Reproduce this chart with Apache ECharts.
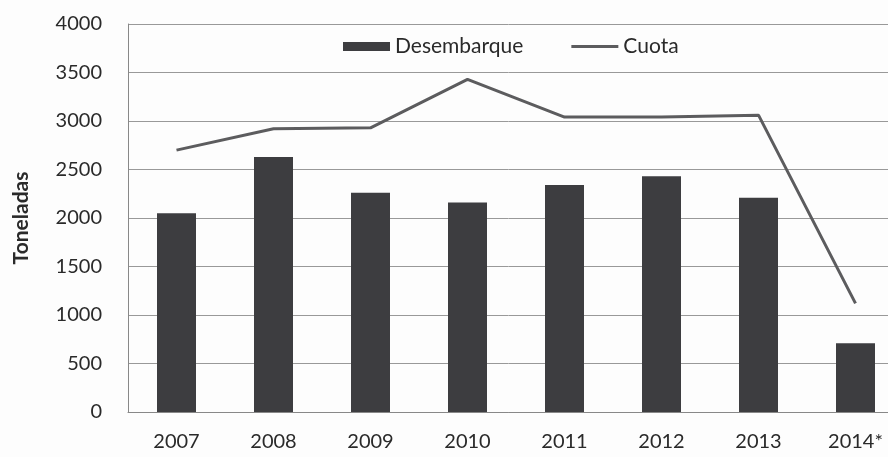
<!DOCTYPE html>
<html>
<head>
<meta charset="utf-8">
<script src="https://cdn.jsdelivr.net/npm/echarts@6/dist/echarts.min.js"></script>
</head>
<body style="margin:0;background:#fdfdfd;">
<div id="main" style="width:888px;height:457px;"></div>
<script type="text/javascript">
// datos
var years = ['2007', '2008', '2009', '2010', '2011', '2012', '2013', '2014*'];
var desembarque = [2050, 2630, 2260, 2160, 2340, 2430, 2210, 710];
var cuota = [2700, 2920, 2930, 3430, 3040, 3040, 3060, 1120];
var yTicks = [0, 500, 1000, 1500, 2000, 2500, 3000, 3500, 4000];

var myChart = echarts.init(document.getElementById('main'));
var fuente = 'Lato';
var option = {
    backgroundColor: '#fdfdfd',
    textStyle: {fontFamily: fuente},
    legend: {
        left: 338,
        top: 31,
        itemWidth: 47,
        itemHeight: 9,
        itemGap: 48,
        textStyle: {fontSize: 21, color: '#2a2a2a', fontFamily: fuente},
        data: [
            {name: 'Desembarque', icon: 'rect'},
            {name: 'Cuota', icon: 'path://M0,0h47v3h-47z'}
        ]
    },
    grid: {left: 128, right: -16, top: 24, bottom: 45, containLabel: false, outerBoundsMode: 'none'},
    xAxis: {
        type: 'category',
        data: years,
        axisLine: {lineStyle: {color: '#888', width: 1}},
        axisTick: {show: false},
        axisLabel: {fontSize: 20, color: '#2a2a2a', margin: 20}
    },
    yAxis: {
        type: 'value',
        min: yTicks[0],
        max: yTicks[yTicks.length - 1],
        interval: 500,
        name: 'Toneladas',
        nameLocation: 'middle',
        nameGap: 96,
        nameRotate: 90,
        nameTextStyle: {fontSize: 21, fontWeight: 'bold', color: '#2a2a2a'},
        axisLine: {show: true, lineStyle: {color: '#888'}},
        axisTick: {show: false},
        axisLabel: {
            fontSize: 20, color: '#2a2a2a', margin: 26,
            formatter: function (v) { return String(v); }
        },
        splitLine: {lineStyle: {color: '#999', width: 1}}
    },
    series: [
        {
            name: 'Desembarque',
            type: 'bar',
            barWidth: 39,
            itemStyle: {color: '#3d3d40'},
            data: desembarque
        },
        {
            name: 'Cuota',
            type: 'line',
            symbol: 'none',
            lineStyle: {color: '#5c5c5e', width: 3},
            itemStyle: {color: '#5c5c5e'},
            data: cuota
        }
    ]
};
myChart.setOption(option);
</script>
</body>
</html>
